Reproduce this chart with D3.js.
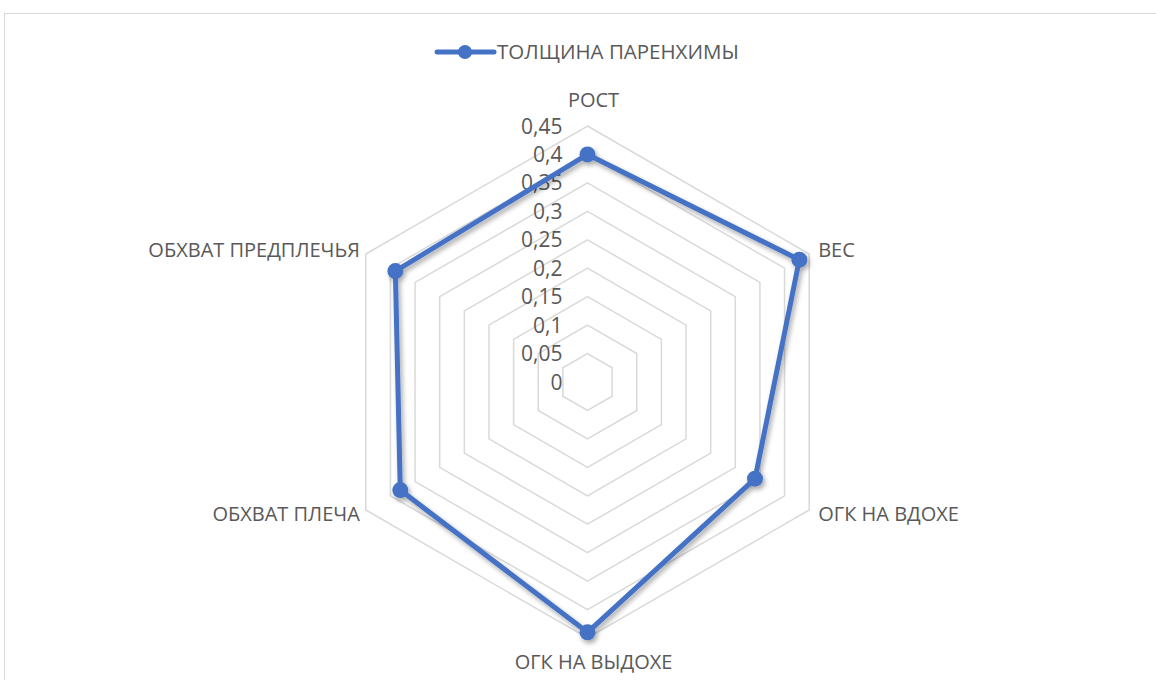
<!DOCTYPE html>
<html>
<head>
<meta charset="utf-8">
<script src="https://cdn.jsdelivr.net/npm/d3@7"></script>
<style>
  body { margin: 0; background: #fff; }
  text { font-family: "Open Sans", "Liberation Sans", sans-serif; fill: #595959; }
</style>
</head>
<body>
<svg id="chart" width="1156" height="680"></svg>
<script>
const categories = ["РОСТ", "ВЕС", "ОГК НА ВДОХЕ", "ОГК НА ВЫДОХЕ", "ОБХВАТ ПЛЕЧА", "ОБХВАТ ПРЕДПЛЕЧЬЯ"]
const seriesName = "ТОЛЩИНА ПАРЕНХИМЫ"
const values = [0.40, 0.43, 0.34, 0.44, 0.38, 0.39]
const ticks = [0, 0.05, 0.1, 0.15, 0.2, 0.25, 0.3, 0.35, 0.4, 0.45]
const tickLabels = ["0", "0,05", "0,1", "0,15", "0,2", "0,25", "0,3", "0,35", "0,4", "0,45"]

const svg = d3.select("#chart")
const cx = 587.5, cy = 382
const R = 256
const blue = "#4472C4"

// chart frame, right/bottom edges fall outside the picture
svg.append("rect")
  .attr("x", 4.5).attr("y", 13.5)
  .attr("width", 1170).attr("height", 700)
  .attr("fill", "none").attr("stroke", "#d9d9d9").attr("stroke-width", 1)

const defs = svg.append("defs")
const f = defs.append("filter").attr("id", "shadow")
  .attr("x", "-10%").attr("y", "-10%").attr("width", "130%").attr("height", "130%")
f.append("feGaussianBlur").attr("in", "SourceAlpha").attr("stdDeviation", 2.5)
f.append("feOffset").attr("dx", 2).attr("dy", 3).attr("result", "b")
f.append("feComponentTransfer").append("feFuncA").attr("type", "linear").attr("slope", 0.35)
const m = f.append("feMerge")
m.append("feMergeNode")
m.append("feMergeNode").attr("in", "SourceGraphic")

const r = d3.scaleLinear().domain([0, 0.45]).range([0, R])
const angle = d3.scalePoint().domain(categories).range([0, 2 * Math.PI * (categories.length - 1) / categories.length])

function pt(cat, v) {
  const a = angle(cat)
  return [cx + r(v) * Math.sin(a), cy - r(v) * Math.cos(a)]
}

const g = svg.append("g")

// grid rings
g.selectAll(".ring")
  .data(ticks.slice(1))
  .join("polygon")
  .attr("class", "ring")
  .attr("points", t => categories.map(c => pt(c, t).join(",")).join(" "))
  .attr("fill", "none")
  .attr("stroke", "#d9d9d9")
  .attr("stroke-width", 1.5)

// tick labels
g.selectAll(".tick")
  .data(ticks)
  .join("text")
  .attr("class", "tick")
  .attr("x", cx - 25)
  .attr("y", t => cy - r(t))
  .attr("dy", "0.36em")
  .attr("text-anchor", "end")
  .style("font-size", "21px")
  .text((t, i) => tickLabels[i])

// category labels
g.selectAll(".cat")
  .data(categories)
  .join("text")
  .attr("class", "cat")
  .attr("x", c => {
    const [x] = pt(c, 0.45)
    const s = Math.sin(angle(c))
    return x + (s > 0.1 ? 9 : s < -0.1 ? -6 : 6)
  })
  .attr("y", c => {
    const [, y] = pt(c, 0.45)
    const co = Math.cos(angle(c))
    return y + (co > 0.9 ? -26 : co < -0.9 ? 24 : co > 0 ? -4 : 4)
  })
  .attr("dy", "0.36em")
  .attr("text-anchor", c => {
    const s = Math.sin(angle(c))
    return s > 0.1 ? "start" : s < -0.1 ? "end" : "middle"
  })
  .style("font-size", "20px")
  .text(c => c)

// series
const series = g.append("g").attr("filter", "url(#shadow)")
series.append("polygon")
  .attr("points", categories.map((c, i) => pt(c, values[i]).join(",")).join(" "))
  .attr("fill", "none")
  .attr("stroke", blue)
  .attr("stroke-width", 5)
  .attr("stroke-linejoin", "round")
series.selectAll("circle")
  .data(values)
  .join("circle")
  .attr("cx", (v, i) => pt(categories[i], v)[0])
  .attr("cy", (v, i) => pt(categories[i], v)[1])
  .attr("r", 8)
  .attr("fill", blue)

// legend
const lg = svg.append("g").attr("transform", "translate(437,52)")
lg.append("line").attr("x1", 0).attr("x2", 57).attr("stroke", blue)
  .attr("stroke-width", 5).attr("stroke-linecap", "round")
lg.append("circle").attr("cx", 28).attr("r", 7).attr("fill", blue)
lg.append("text").attr("x", 60).attr("dy", "0.36em")
  .style("font-size", "20.5px").text(seriesName)
</script>
</body>
</html>
